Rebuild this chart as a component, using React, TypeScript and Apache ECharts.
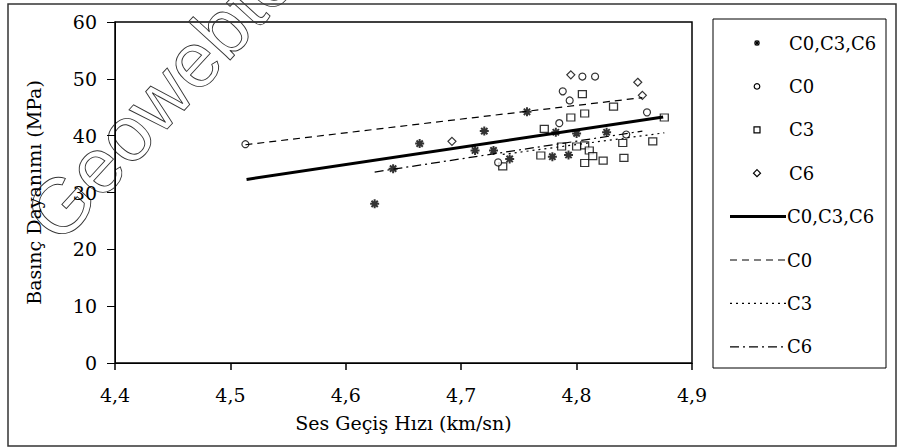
import React, { useEffect, useRef } from 'react';
import * as echarts from 'echarts';

// ---- data ----
const xMin = 4.4;
const xMax = 4.9;
const xStep = 0.1;
const yMin = 0;
const yMax = 60;
const yStep = 10;

// asterisk markers: "C0,C3,C6"
const allX = [4.625, 4.641, 4.664, 4.712, 4.720, 4.728, 4.742, 4.757, 4.779, 4.782, 4.793, 4.800, 4.826];
const allY = [28.0, 34.2, 38.6, 37.4, 40.8, 37.4, 35.9, 44.2, 36.3, 40.6, 36.6, 40.4, 40.6];

// circles: C0
const c0X = [4.513, 4.732, 4.785, 4.788, 4.794, 4.805, 4.816, 4.843, 4.861];
const c0Y = [38.5, 35.3, 42.2, 47.8, 46.2, 50.4, 50.4, 40.2, 44.1];

// squares: C3
const c3X = [4.736, 4.769, 4.772, 4.787, 4.795, 4.800, 4.805, 4.807, 4.807, 4.807, 4.811, 4.814, 4.823, 4.832, 4.840, 4.841, 4.866, 4.876];
const c3Y = [34.6, 36.5, 41.2, 38.1, 43.2, 38.1, 47.3, 43.9, 38.3, 35.2, 37.4, 36.4, 35.6, 45.1, 38.7, 36.1, 39.0, 43.2];

// diamonds: C6
const c6X = [4.692, 4.795, 4.853, 4.857];
const c6Y = [39.0, 50.7, 49.4, 47.1];

// regression lines (end points)
const fitAllX = [4.514, 4.875];
const fitAllY = [32.3, 43.3];
const fitC0X = [4.513, 4.857];
const fitC0Y = [38.4, 46.7];
const fitC3X = [4.736, 4.876];
const fitC3Y = [36.7, 40.5];
const fitC6X = [4.625, 4.857];
const fitC6Y = [33.6, 40.8];

const legendNames = ['C0,C3,C6', 'C0', 'C3', 'C6', 'C0,C3,C6', 'C0', 'C3', 'C6'];

const xAxisTitle = 'Ses Geçiş Hızı (km/sn)';
const yAxisTitle = 'Basınç Dayanımı (MPa)';
const watermark = 'Geowebte';

const FONT = '"DejaVu Serif", serif';

const pairs = (xs: number[], ys: number[]) => xs.map((x, i) => [x, ys[i]]);

const STAR_PATH = 'path://M0,5 L10,5 M5,0 L5,10 M1.5,1.5 L8.5,8.5 M8.5,1.5 L1.5,8.5';

function buildLegend() {
  const els: any[] = [];
  const boxX = 713, boxY = 19, boxW = 173, boxH = 349;
  els.push({ type: 'rect', shape: { x: boxX, y: boxY, width: boxW, height: boxH }, style: { fill: '#fff', stroke: '#000', lineWidth: 1 }, z: 10 });
  const rowY0 = 43, rowStep = 43.4;
  const mx = 757;
  const textEl = (t: string, x: number, y: number) => ({
    type: 'text', x, y, z: 11,
    style: { text: t, font: `18px ${FONT}`, fill: '#000', textAlign: 'left', textVerticalAlign: 'middle' },
  });
  const seg = (x1: number, y1: number, x2: number, y2: number, w: number) => ({
    type: 'line', z: 11, shape: { x1, y1, x2, y2 }, style: { stroke: '#000', lineWidth: w },
  });
  legendNames.forEach((name, i) => {
    const y = rowY0 + i * rowStep;
    if (i === 0) {
      els.push(seg(mx - 3, y, mx + 3, y, 1.3));
      els.push(seg(mx, y - 3, mx, y + 3, 1.3));
      els.push(seg(mx - 2.2, y - 2.2, mx + 2.2, y + 2.2, 1.3));
      els.push(seg(mx + 2.2, y - 2.2, mx - 2.2, y + 2.2, 1.3));
      els.push(textEl(name, 789, y));
    } else if (i === 1) {
      els.push({ type: 'circle', z: 11, shape: { cx: mx, cy: y, r: 2.8 }, style: { fill: '#fff', stroke: '#000', lineWidth: 1.2 } });
      els.push(textEl(name, 789, y));
    } else if (i === 2) {
      els.push({ type: 'rect', z: 11, shape: { x: mx - 3, y: y - 3, width: 6, height: 6 }, style: { fill: '#fff', stroke: '#000', lineWidth: 1.2 } });
      els.push(textEl(name, 789, y));
    } else if (i === 3) {
      els.push({ type: 'polygon', z: 11, shape: { points: [[mx, y - 3.5], [mx + 3.5, y], [mx, y + 3.5], [mx - 3.5, y]] }, style: { fill: '#fff', stroke: '#000', lineWidth: 1.2 } });
      els.push(textEl(name, 789, y));
    } else {
      const dash: any = i === 4 ? null : i === 5 ? [7, 5] : i === 6 ? [2, 4] : [9, 4, 2, 4];
      els.push({ type: 'line', z: 11, shape: { x1: 730, y1: y, x2: 786, y2: y }, style: { stroke: '#000', lineWidth: i === 4 ? 3 : 1.2, lineDash: dash } });
      els.push(textEl(name, 787, y));
    }
  });
  return els;
}

export default function App() {
  const ref = useRef<HTMLDivElement>(null);
  useEffect(() => {
    const chart = echarts.init(ref.current!, null, { renderer: 'svg' });
    const axisText = { color: '#000', fontFamily: FONT, fontSize: 19 };
    const option: any = {
      animation: false,
      backgroundColor: '#fff',
      grid: { left: 115, top: 22, width: 577, height: 341, show: true, borderColor: '#000', borderWidth: 1.5, backgroundColor: 'transparent' },
      xAxis: {
        type: 'value', min: xMin, max: xMax, interval: xStep,
        name: xAxisTitle, nameLocation: 'middle', nameGap: 50,
        nameTextStyle: axisText,
        axisLine: { lineStyle: { color: '#000', width: 1 } },
        axisTick: { show: true, inside: false, length: 7, lineStyle: { color: '#000', width: 1.5 } },
        axisLabel: { ...axisText, margin: 22, formatter: (v: number) => v.toFixed(1).replace('.', ',') },
        splitLine: { show: false },
      },
      yAxis: {
        type: 'value', min: yMin, max: yMax, interval: yStep,
        name: yAxisTitle, nameLocation: 'middle', nameGap: 72,
        nameTextStyle: axisText,
        axisLine: { lineStyle: { color: '#000', width: 1 } },
        axisTick: { show: true, inside: false, length: 8, lineStyle: { color: '#000', width: 1 } },
        axisLabel: { ...axisText, margin: 18, formatter: (v: number) => String(Math.round(v)) },
        splitLine: { show: false },
      },
      graphic: [
        { type: 'text', x: 40, y: 228, rotation: 0.83, z: 0,
          style: { text: watermark, font: `78px "Liberation Sans", sans-serif`, fill: 'rgba(255,255,255,0)', stroke: '#333', lineWidth: 0.9, textAlign: 'left', textVerticalAlign: 'middle' } },
        { type: 'rect', z: 0, shape: { x: 8, y: 4, width: 888, height: 442 }, style: { fill: 'none', stroke: '#333', lineWidth: 1.5 } },
        ...buildLegend(),
      ],
      series: [
        { name: 'fit C0,C3,C6', type: 'line', data: pairs(fitAllX, fitAllY), symbol: 'none', z: 4, lineStyle: { color: '#000', width: 3 } },
        { name: 'fit C0', type: 'line', data: pairs(fitC0X, fitC0Y), symbol: 'none', z: 4, lineStyle: { color: '#000', width: 1.2, type: [7, 5] } },
        { name: 'fit C3', type: 'line', data: pairs(fitC3X, fitC3Y), symbol: 'none', z: 4, lineStyle: { color: '#000', width: 1.2, type: [2, 4] } },
        { name: 'fit C6', type: 'line', data: pairs(fitC6X, fitC6Y), symbol: 'none', z: 4, lineStyle: { color: '#000', width: 1.2, type: [9, 4, 2, 4] } },
        { name: 'C3', type: 'scatter', data: pairs(c3X, c3Y), symbol: 'rect', symbolSize: [8, 7], z: 3,
          itemStyle: { color: '#fff', borderColor: '#000', borderWidth: 1.2 } },
        { name: 'C0', type: 'scatter', data: pairs(c0X, c0Y), symbol: 'circle', symbolSize: 7, z: 3,
          itemStyle: { color: '#fff', borderColor: '#000', borderWidth: 1.2 } },
        { name: 'C6', type: 'scatter', data: pairs(c6X, c6Y), symbol: 'diamond', symbolSize: 8, z: 3,
          itemStyle: { color: '#fff', borderColor: '#000', borderWidth: 1.2 } },
        { name: 'C0,C3,C6', type: 'scatter', data: pairs(allX, allY), symbol: STAR_PATH, symbolSize: 9, z: 3,
          itemStyle: { color: '#000', borderColor: '#000', borderWidth: 2 } },
      ],
    };
    chart.setOption(option);
    return () => chart.dispose();
  }, []);
  return <div ref={ref} style={{ position: 'fixed', left: 0, top: 0, width: 897, height: 448, background: '#fff' }} />;
}
